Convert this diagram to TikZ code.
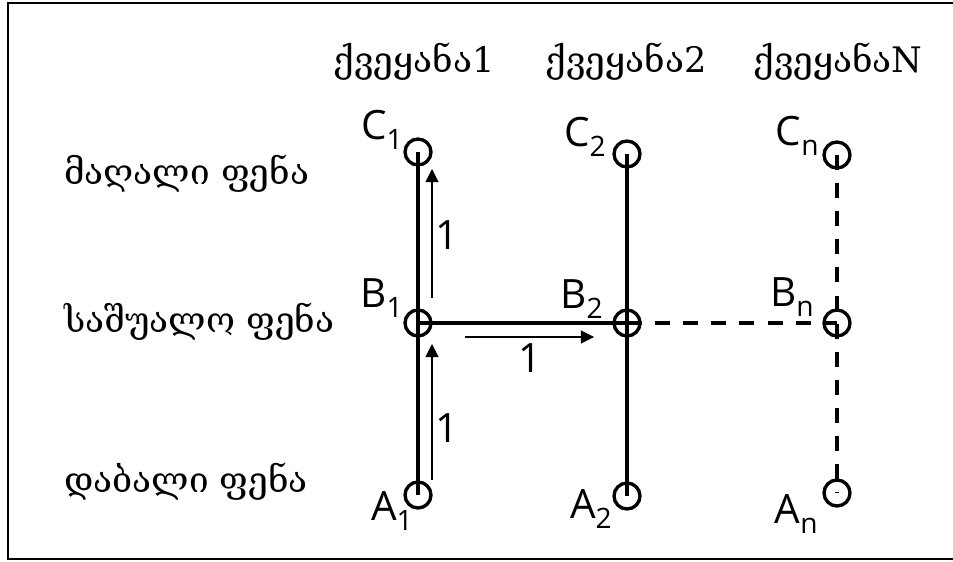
\documentclass[tikz,border=0pt]{standalone}
\usepackage{fontspec}
\setmainfont{Open Sans}
\newfontfamily\geofont{DejaVu Serif}
\usetikzlibrary{arrows.meta}
\newcommand{\idx}[2]{#1\raisebox{-0.5ex}{\fontsize{16}{16}\selectfont #2}}

\begin{document}
\begin{tikzpicture}[x=0.02cm, y=-0.02cm,
  every node/.style={font=\fontsize{23}{23}\selectfont},
  pt/.style={circle, draw, line width=1.9pt, minimum size=0.52cm, inner sep=0pt},
  ptname/.style={anchor=base east, inner sep=0pt},
  geotext/.style={font=\geofont\fontsize{20}{20}\selectfont},
  link/.style={line width=2.1pt},
  weak/.style={line width=2pt, dash pattern=on 8.5pt off 7.5pt},
  flow/.style={line width=0.6pt, -{Triangle[length=7.5pt,width=7.5pt]}}]

  \useasboundingbox (0,0) rectangle (953,561);
  \draw[line width=1.5pt] (953,3) -- (8,3) -- (8,559) -- (953,559);

  % countries across the top, layers down the left
  \node[geotext] (h1) at (414,62) {ქვეყანა1};
  \node[geotext] (h2) at (626,62) {ქვეყანა2};
  \node[geotext] (h3) at (838,62) {ქვეყანაN};
  \node[geotext, anchor=west] (high) at (58,174) {მაღალი ფენა};
  \node[geotext, anchor=west] (mid) at (58,322) {საშუალო ფენა};
  \node[geotext, anchor=west] (low) at (58,482) {დაბალი ფენა};

  \node[pt] (c1) at (418,152) {};
  \node[pt] (b1) at (418,323) {};
  \node[pt] (a1) at (418,495) {};
  \node[pt] (c2) at (627,154) {};
  \node[pt] (b2) at (627,323) {};
  \node[pt] (a2) at (627,496) {};
  \node[pt] (cn) at (837,155) {};
  \node[pt] (bn) at (837,323) {};
  \node[pt] (an) at (837,493) {};

  \node[ptname] (lc1) at (403,139) {\idx{C}{1}};
  \node[ptname] (lb1) at (403,307) {\idx{B}{1}};
  \node[ptname] (la1) at (413,520) {\idx{A}{1}};
  \node[ptname] (lc2) at (606,146) {\idx{C}{2}};
  \node[ptname] (lb2) at (603,308) {\idx{B}{2}};
  \node[ptname] (la2) at (612,518) {\idx{A}{2}};
  \node[ptname] (lcn) at (819,145) {\idx{C}{n}};
  \node[ptname] (lbn) at (814,306) {\idx{B}{n}};
  \node[ptname] (lan) at (818,523) {\idx{A}{n}};

  \draw[link] (c1.center) -- (a1.center);
  \draw[link] (c2.center) -- (a2.center);
  \draw[link] (b1.center) -- (b2.center);
  \draw[weak] (b2.center) -- (bn.center);
  \draw[weak] (cn.center) -- (an.center);

  \coordinate (lowfrom) at (432,480);
  \coordinate (lowto) at (432,344);
  \coordinate (upfrom) at (432,298);
  \coordinate (upto) at (432,169);
  \coordinate (sidefrom) at (465,337);
  \coordinate (sideto) at (594,337);
  \draw[flow] (lowfrom) -- (lowto);
  \draw[flow] (upfrom) -- (upto);
  \draw[flow] (sidefrom) -- (sideto);
  \node (wlow) at (447,428) {1};
  \node (wup) at (447,235) {1};
  \node (wside) at (530,358) {1};
\end{tikzpicture}
\end{document}
